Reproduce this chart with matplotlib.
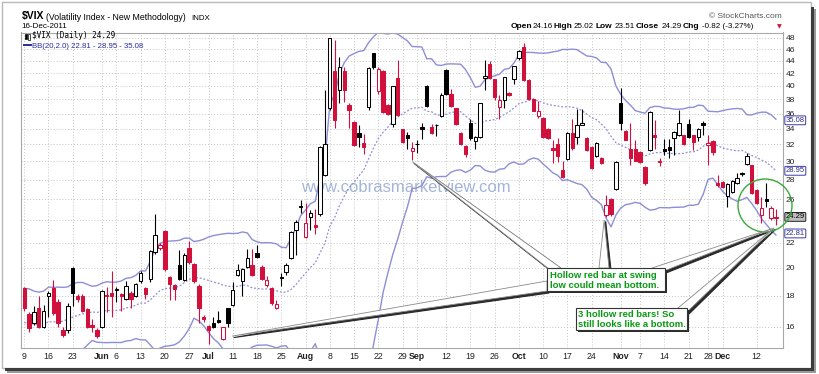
import numpy as np
import pandas as pd
import matplotlib
matplotlib.use('Agg')
import matplotlib.pyplot as plt
from matplotlib.patches import Rectangle, Polygon, Ellipse
from matplotlib.transforms import IdentityTransform, blended_transform_factory
from matplotlib.ticker import NullLocator, FixedLocator

plt.rcParams['font.family'] = ['Liberation Sans', 'DejaVu Sans']

W, H = 820, 374

# trading days on the chart
holidays = ['2011-05-30', '2011-07-04', '2011-09-05', '2011-11-24']
dates = pd.bdate_range('2011-05-09', '2011-12-16').drop(pd.to_datetime(holidays))

# closes before the first bar (only feed the first Bollinger values)
closes_before = [16.59, 17.87, 16.92, 16.27, 15.32, 16.96, 15.83, 15.07, 14.69, 15.83,
                 15.22, 15.42, 14.62, 14.75, 15.99, 16.70, 17.08, 18.20, 18.40]

opens = [18.5, 16.8, 16.2, 17.2, 16.0, 18.0, 18.5, 17.6, 15.8, 15.8,
         20.0, 18.0, 17.95, 17.1, 16.1, 15.8, 15.95, 17.95, 18.2, 18.38,
         18.1, 17.75, 18.2, 17.95, 19.0, 18.5, 19.2, 21.25, 21.55, 23.0,
         19.35, 18.75, 20.2, 19.1, 21.55, 20.3, 18.65, 16.6, 16.05, 16.25,
         16.4, 15.25, 17.15, 17.35, 19.5, 19.0, 20.05, 20.2, 21.2, 20.05,
         18.72, 18.5, 17.15, 19.25, 19.7, 20.8, 23.1, 25.2, 22.5, 24.25,
         23.55, 24.55, 28.5, 36.8, 42.4, 39.4, 42.3, 37.2, 34.9, 33.4,
         32.2, 36.85, 45.3, 39.2, 42.3, 37.2, 34.6, 41.2, 33.9, 33.15,
         31.25, 32.0, 34.2, 40.0, 34.2, 34.4, 35.65, 42.5, 38.8, 36.7,
         33.45, 31.8, 34.75, 32.45, 32.9, 41.2, 43.45, 41.0, 36.85, 37.9,
         38.95, 41.0, 44.4, 46.4, 40.9, 38.1, 35.65, 35.4, 34.0, 31.6,
         32.0, 29.0, 30.3, 33.4, 32.95, 34.45, 32.85, 31.7, 30.6, 30.45,
         24.5, 26.05, 27.05, 37.5, 33.7, 31.4, 31.4, 31.1, 29.4, 31.3,
         33.15, 30.05, 31.5, 31.75, 32.75, 33.15, 33.15, 34.6, 33.15, 32.95,
         34.7, 31.9, 32.4, 27.65, 27.75, 26.3, 26.7, 27.65, 28.75, 29.7,
         29.6, 26.9, 24.45, 26.0, 24.15, 24.16]
highs = [18.6, 16.9, 17.3, 18.0, 17.4, 18.3, 19.1, 17.8, 16.0, 17.5,
         20.1, 18.1, 18.1, 17.2, 16.5, 15.9, 18.4, 18.6, 19.8, 18.6,
         18.2, 19.0, 18.3, 18.9, 19.8, 18.6, 21.4, 24.6, 22.0, 23.1,
         19.4, 18.8, 21.45, 21.2, 22.2, 20.4, 18.8, 16.7, 16.1, 16.6,
         17.0, 16.0, 17.2, 18.95, 20.3, 20.0, 21.5, 21.5, 21.8, 20.2,
         19.4, 18.6, 17.7, 19.6, 20.4, 23.0, 24.0, 25.9, 25.6, 24.9,
         25.0, 31.8, 39.4, 48.0, 47.6, 44.6, 43.0, 37.5, 35.0, 34.4,
         33.3, 43.0, 45.4, 43.0, 42.5, 37.3, 40.0, 44.2, 34.0, 33.6,
         32.3, 32.5, 34.7, 40.1, 34.6, 34.65, 38.9, 42.6, 39.5, 36.8,
         33.5, 31.9, 35.3, 33.0, 37.5, 44.2, 44.0, 41.1, 38.6, 41.4,
         39.0, 43.2, 45.8, 47.1, 41.0, 38.2, 37.8, 35.5, 34.1, 32.5,
         32.8, 30.0, 33.5, 35.3, 36.6, 36.6, 32.9, 31.8, 32.3, 30.5,
         26.4, 26.1, 30.0, 39.7, 33.8, 34.7, 32.5, 31.2, 29.5, 36.3,
         35.1, 30.4, 32.7, 32.7, 33.7, 36.5, 33.2, 35.3, 33.2, 34.1,
         35.0, 33.15, 32.6, 28.5, 27.8, 27.6, 28.0, 28.7, 28.8, 31.0,
         29.65, 27.0, 26.2, 27.6, 25.3, 25.02]
lows = [17.0, 15.7, 16.1, 15.9, 15.9, 16.6, 16.7, 16.0, 15.4, 15.6,
        17.3, 17.6, 16.9, 15.9, 15.7, 15.3, 15.9, 16.9, 16.6, 17.55,
        17.0, 17.7, 17.2, 17.9, 18.9, 17.8, 18.95, 21.1, 21.4, 19.8,
        17.7, 17.7, 19.1, 19.0, 20.3, 18.9, 16.2, 16.3, 15.0, 15.9,
        16.2, 15.2, 15.95, 17.3, 19.4, 18.0, 20.0, 19.4, 20.8, 19.1,
        18.6, 17.4, 17.1, 18.65, 19.44, 20.7, 21.0, 24.7, 22.4, 23.1,
        22.8, 24.4, 28.4, 36.5, 34.1, 37.4, 37.6, 34.1, 31.8, 31.7,
        30.9, 36.5, 42.6, 38.8, 36.1, 35.8, 34.2, 35.6, 32.2, 31.5,
        30.2, 31.0, 32.7, 36.9, 33.3, 33.0, 35.5, 38.7, 36.9, 34.5,
        31.95, 30.55, 32.6, 31.5, 32.8, 39.4, 41.1, 37.9, 35.3, 36.7,
        38.5, 40.3, 44.2, 40.8, 38.0, 36.3, 35.4, 32.85, 32.7, 29.8,
        29.9, 28.2, 30.2, 31.3, 32.0, 34.4, 31.2, 29.2, 30.5, 29.7,
        24.3, 24.4, 26.9, 33.8, 32.5, 29.6, 30.0, 29.8, 27.4, 31.2,
        31.5, 29.5, 30.8, 30.45, 30.8, 33.0, 31.9, 32.8, 31.3, 32.4,
        33.2, 29.6, 30.8, 27.2, 27.1, 25.2, 26.6, 27.5, 28.4, 29.6,
        26.5, 25.5, 23.7, 25.2, 24.0, 23.51]
closes = [17.16, 15.91, 16.9, 16.0, 17.0, 18.2, 16.85, 16.2, 15.5, 17.3,
          18.2, 17.75, 17.0, 16.0, 15.97, 15.45, 18.3, 18.05, 17.95, 18.45,
          17.95, 18.7, 17.75, 18.8, 19.6, 18.1, 21.3, 22.7, 21.8, 19.95,
          18.8, 18.45, 19.2, 21.05, 20.45, 19.05, 17.2, 16.45, 15.8, 16.0,
          16.3, 15.95, 16.2, 18.36, 19.82, 19.9, 20.75, 19.45, 20.85, 19.15,
          19.08, 17.5, 17.45, 19.3, 20.2, 22.9, 23.85, 25.3, 23.75, 24.7,
          23.35, 31.7, 32.0, 48.0, 35.1, 43.0, 39.3, 36.5, 31.9, 32.95,
          31.65, 42.75, 43.0, 42.6, 36.25, 36.0, 39.9, 35.8, 32.3, 32.85,
          31.6, 32.05, 33.9, 37.0, 33.45, 34.45, 38.6, 38.8, 37.0, 34.6,
          32.05, 30.9, 32.75, 32.95, 37.4, 41.45, 41.25, 38.4, 37.85, 41.3,
          38.65, 43.1, 45.6, 40.9, 38.1, 36.4, 36.3, 32.95, 32.85, 31.3,
          30.6, 28.3, 33.45, 31.6, 34.45, 34.75, 31.3, 29.3, 32.2, 29.85,
          25.45, 24.55, 29.95, 34.75, 32.6, 30.45, 30.1, 29.95, 27.6, 36.25,
          32.9, 29.95, 31.2, 31.3, 33.6, 34.7, 32.05, 32.95, 32.3, 34.0,
          34.45, 32.2, 31.05, 27.45, 27.2, 27.5, 27.9, 28.2, 28.55, 30.6,
          26.6, 25.65, 25.1, 25.85, 25.11, 24.29]

tick_dates = ['2011-05-09', '2011-05-16', '2011-05-23', '2011-06-01', '2011-06-06',
              '2011-06-13', '2011-06-20', '2011-06-27', '2011-07-01', '2011-07-11',
              '2011-07-18', '2011-07-25', '2011-08-01', '2011-08-08', '2011-08-15',
              '2011-08-22', '2011-08-29', '2011-09-01', '2011-09-12', '2011-09-19',
              '2011-09-26', '2011-10-03', '2011-10-10', '2011-10-17', '2011-10-24',
              '2011-11-01', '2011-11-07', '2011-11-14', '2011-11-21', '2011-11-28',
              '2011-12-01', '2011-12-12']
tick_labels = ['9', '16', '23', 'Jun', '6', '13', '20', '27', 'Jul', '11', '18', '25',
               'Aug', '8', '15', '22', '29', 'Sep', '12', '19', '26', 'Oct', '10', '17',
               '24', 'Nov', '7', '14', '21', '28', 'Dec', '12']
y_ticks = list(range(16, 49, 2))
bb_last = [22.81, 28.95, 35.08]

RED = '#d2103c'
BAND = '#8e8ed8'
GREEN = '#079a12'

# Bollinger bands (20, 2.0)
all_close = pd.Series(closes_before + closes)
n0 = len(closes_before)
mid = all_close.rolling(20).mean().values[n0:]
sd = all_close.rolling(20).std(ddof=0).values[n0:]
upper = mid + 2 * sd
lower = mid - 2 * sd

fig = plt.figure(figsize=(W / 100, H / 100), dpi=100)
fig.patch.set_facecolor('white')
ax = fig.add_axes([21 / W, 1 - 348 / H, (782.7 - 21) / W, (348 - 32.5) / H])
ax.set_yscale('log')
ax.set_ylim(14.75, 49.0)
ax.set_xlim(-0.67, 156.4)

x = np.arange(len(closes))
o = np.array(opens)
c = np.array(closes)
hi = np.array(highs)
lo = np.array(lows)
prev = np.r_[closes_before[-1], c[:-1]]
is_red = c < prev
hollow = c >= o
line_col = [RED if r else 'black' for r in is_red]
face = ['white' if h else lc for h, lc in zip(hollow, line_col)]

# bands
ax.plot(x, upper, color=BAND, lw=1.0, zorder=2)
ax.plot(x, lower, color=BAND, lw=1.0, zorder=2)
ax.plot(x, mid, color=BAND, lw=0.9, ls=(0, (1.5, 1.5)), zorder=2)

# candles
ax.vlines(x, lo, hi, colors=line_col, lw=0.8, zorder=3)
body_lo = np.minimum(o, c)
body_h = np.maximum(np.abs(c - o), 0.04)
ax.bar(x, body_h, bottom=body_lo, width=0.7, color=face, edgecolor=line_col,
       linewidth=0.75, zorder=4)

# axes styling
pos = [dates.get_loc(pd.Timestamp(d)) for d in tick_dates]
ax.xaxis.set_major_locator(FixedLocator(pos))
ax.set_xticklabels(tick_labels)
for lab, t in zip(ax.get_xticklabels(), tick_labels):
    if not t.isdigit():
        lab.set_fontweight('bold')
ax.yaxis.tick_right()
ax.yaxis.set_major_locator(FixedLocator(y_ticks))
ax.yaxis.set_minor_locator(NullLocator())
# the "24" label sits under the last-close tag
ax.set_yticklabels(['' if abs(v - closes[-1]) < 0.5 else str(v) for v in y_ticks])
ax.tick_params(axis='x', length=0, pad=3, labelsize=6.3, colors='#222222')
ax.tick_params(axis='y', length=0, pad=2, labelsize=6.1, colors='#222222')
ax.grid(True, which='major', ls=(0, (1, 2)), color='#c4c4c4', lw=0.7)
ax.set_axisbelow(True)
for s in ax.spines.values():
    s.set_color('#a8a8a8')
    s.set_linewidth(0.8)

# watermark
ax.text(0.5054, 0.51, 'www.cobrasmarketview.com', transform=ax.transAxes,
        ha='center', va='center', fontsize=12, color='#8ca3cf', alpha=0.8, zorder=1.5)

# value tags on the right
bt = blended_transform_factory(ax.transAxes, ax.transData)
for v in (bb_last[2], bb_last[1], bb_last[0]):
    ax.text(1.004, v, f'{v:.2f}', transform=bt, ha='left', va='center', fontsize=5.5,
            color='#2a2a8a', zorder=10, clip_on=False,
            bbox=dict(boxstyle='round,pad=0.12', fc='white', ec='#3a3aa8', lw=0.7))
ax.text(1.004, closes[-1], f'{closes[-1]:.2f}', transform=bt, ha='left', va='center',
        fontsize=5.5, color='black', zorder=10, clip_on=False,
        bbox=dict(boxstyle='round,pad=0.12', fc='#bdbdbd', ec='#222222', lw=0.7))


def fx(px):
    return px / W


def fy(py):
    return 1 - py / H


# header
fig.text(fx(21.5), fy(19.5), '$VIX', fontsize=7.5, fontweight='bold', va='baseline')
fig.text(fx(46.5), fy(19.5), '(Volatility Index - New Methodology)', fontsize=6.3, va='baseline')
fig.text(fx(191.5), fy(19.5), 'INDX', fontsize=5.7, va='baseline')
fig.text(fx(21.5), fy(28.3), '16-Dec-2011', fontsize=5.8, va='baseline')
fig.text(fx(31.7), fy(38.3), f'$VIX (Daily) {closes[-1]:.2f}', fontsize=5.6,
         family='DejaVu Sans Mono', va='baseline')
fig.text(fx(31.7), fy(47.7), f'BB(20,2.0) {bb_last[0]:.2f} - {bb_last[1]:.2f} - {bb_last[2]:.2f}',
         fontsize=5.6, color='#2a2aa0', va='baseline')
fig.text(fx(781.7), fy(18.3), '\u00a9 StockCharts.com', fontsize=6.0, color='#555555',
         ha='right', va='baseline')
chg = closes[-1] - closes[-2]
pieces = [(511, 'Open', True), (533, f'{opens[-1]:.2f}', False),
          (553, 'High', True), (574, f'{highs[-1]:.2f}', False),
          (596, 'Low', True), (615, f'{lows[-1]:.2f}', False),
          (636, 'Close', True), (662, f'{closes[-1]:.2f}', False),
          (683, 'Chg', True), (702, f'{chg:.2f} ({chg / closes[-2] * 100:.2f}%)', False)]
for px_, s, b in pieces:
    fig.text(fx(px_), fy(28.3), s, fontsize=6.0 if b else 5.8,
             fontweight='bold' if b else 'normal', va='baseline')
fig.text(fx(777), fy(28.3), '\u25bc', fontsize=4.5, color=RED, va='baseline',
         family='DejaVu Sans')

# legend icons
ident = IdentityTransform()
fig.add_artist(Rectangle((24.5, H - 39), 2, 5, fc='black', ec='black', lw=0.5, transform=ident))
fig.add_artist(Rectangle((28, H - 39.5), 2, 6, fc='white', ec='black', lw=0.5, transform=ident))
fig.add_artist(plt.Line2D([24, 30.5], [H - 44.5, H - 44.5], color='#2a2aa0', lw=1.4,
                          transform=ident))

# callouts
fig.canvas.draw()


def dpx(i, v, dx=0, dy=0):
    X, Y = ax.transData.transform((i, v))
    return (X + dx, Y + dy)


def P(xp, yp):
    return (xp, H - yp)


def pointer(b1, b2, tip):
    sh = [(b1[0] + 2, b1[1] - 2), (b2[0] + 2, b2[1] - 2), (tip[0] + 1.5, tip[1] - 1.5)]
    fig.add_artist(Polygon(sh, closed=True, fc='#2a2a2a', ec='#2a2a2a', lw=0.8,
                           transform=ident, zorder=6))
    fig.add_artist(Polygon([b1, b2, tip], closed=True, fc='white', ec='#8a8a8a', lw=0.6,
                           transform=ident, zorder=7))


last_tip = dpx(155, lows[155], -2, -2.5)
pointer(P(549, 269), P(561, 268), dpx(80, lows[80], 0, -2))
pointer(P(599, 268), P(609, 268), dpx(120, lows[120], -2, -3))
pointer(P(652, 268), P(664, 271), last_tip)
pointer(P(547, 281), P(547, 291), dpx(41, lows[41], 9, 4))
pointer(P(678, 308), P(687, 312), last_tip)


def note_box(x0, y0, x1, y1, lines, tx, bases):
    fig.add_artist(Rectangle((x0 + 2, H - y1 - 2), x1 - x0, y1 - y0, fc='#2a2a2a', ec='none',
                             transform=ident, zorder=8))
    fig.add_artist(Rectangle((x0, H - y1), x1 - x0, y1 - y0, fc='white', ec='#333333',
                             lw=0.8, transform=ident, zorder=9))
    for s, b in zip(lines, bases):
        fig.text(fx(tx), fy(b), s, fontsize=6.8, fontweight='bold', color=GREEN,
                 va='baseline', zorder=10)


note_box(547, 268, 665, 291, ['Hollow red bar at swing', 'low could mean bottom.'], 549.5,
         [277.5, 287.5])
note_box(576, 308, 687, 330, ['3 hollow red bars! So', 'still looks like a bottom.'], 578.5,
         [317.0, 327.0])

# green circle
fig.add_artist(Ellipse(P(765, 205.5), 54, 53, fc='none', ec='#3aa83a', lw=1.0,
                       transform=ident, zorder=6))

# outer frame with shadow
fig.add_artist(Rectangle((1.5, H - 367.5), 809, 366, fc='none', ec='#b8b8b8', lw=1.0,
                         transform=ident, zorder=1))
fig.add_artist(Rectangle((5, H - 370.5), 808, 3, fc='#3c3c3c', ec='none', transform=ident, zorder=1))
fig.add_artist(Rectangle((7, H - 372.5), 808, 2, fc='#9a9a9a', ec='none', transform=ident, zorder=1))
fig.add_artist(Rectangle((810.5, H - 370.5), 3, 364, fc='#3c3c3c', ec='none', transform=ident, zorder=1))
fig.add_artist(Rectangle((813.5, H - 372.5), 2, 364, fc='#9a9a9a', ec='none', transform=ident, zorder=1))

fig.savefig('out.png', dpi=100)
